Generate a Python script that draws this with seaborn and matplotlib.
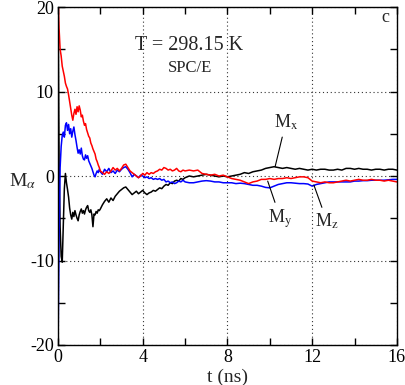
import numpy as np
import pandas as pd
import matplotlib
matplotlib.use("Agg")
import matplotlib.pyplot as plt
import seaborn as sns

# time axis (ns): fine sampling early, coarser later
t = np.round(np.concatenate([np.arange(0, 2.001, 0.05),
                             np.arange(2.1, 6.001, 0.1),
                             np.arange(6.2, 16.001, 0.2)]), 2)

mx = [22, 2, -6, -9.5, -10.2, -6, -1.5, 0.3, -0.8, -1.6,
      -2.5, -3.8, -4.6, -5.1, -4.3, -4.8, -4.1, -4.6, -5.0, -5.3,
      -4.6, -4.2, -3.9, -4.4, -4.1, -4.5, -4.0, -3.7, -3.5, -4.1,
      -4.3, -4.0, -4.6, -6.0, -4.5, -4.6, -4.2, -4.4, -4.0, -4.1, -3.9,
      -3.4, -3.0, -2.7, -3.1, -2.6, -2.9, -2.4, -2.1, -1.8, -1.6,
      -1.4, -1.3, -1.6, -1.9, -2.2, -2.0, -1.8, -2.1, -1.9, -1.7,
      -2.0, -2.2, -2.0, -1.9, -1.7, -1.8, -1.6, -1.4, -1.5, -1.2,
      -1.0, -1.1, -0.8, -0.9, -0.6, -0.5, -0.6, -0.3, -0.4, -0.2,
      0.0, -0.1, 0.0, 0.1, 0.2, 0.1, 0.0, -0.1, 0.0, -0.1,
      0.0, 0.1, 0.2, 0.4, 0.3, 0.5, 0.6, 0.7, 0.9, 1.0,
      1.1, 1.0, 0.9, 1.0, 0.9, 0.8, 0.9, 0.8, 0.7, 0.8,
      0.7, 0.8, 0.8, 0.7, 0.7, 0.8, 0.7, 0.9, 0.9, 0.8,
      0.9, 0.8, 0.8, 0.7, 0.8, 0.8, 0.7, 0.8, 0.8, 0.7]

my = [-21, -8, 1.0, 3.5, 4.8, 5.2, 4.6, 6.0, 6.3, 5.4,
      6.1, 5.0, 5.6, 4.6, 5.3, 5.8, 4.9, 4.2, 3.4, 2.7,
      3.1, 2.6, 3.3, 2.4, 2.0, 1.9, 2.5, 2.1, 2.4, 1.8,
      1.5, 1.2, 0.9, 0.5, 0.1, -0.1, 0.3, 0.6, 0.4, 0.8, 0.5,
      0.2, 0.8, 0.5, 0.9, 0.4, 0.6, 0.3, 0.7, 0.5, 0.8,
      1.0, 1.1, 0.8, 0.4, -0.1, 0.2, 0.0, -0.2, 0.1, 0.0,
      -0.2, -0.1, -0.3, -0.2, -0.4, -0.3, -0.4, -0.3, -0.5, -0.4,
      -0.7, -0.6, -0.8, -0.7, -0.9, -0.8, -0.6, -0.7, -0.5, -0.7,
      -0.8, -0.8, -0.7, -0.6, -0.55, -0.6, -0.7, -0.7, -0.8, -0.8,
      -0.8, -0.9, -0.85, -0.9, -1.0, -1.1, -1.1, -1.2, -1.35, -1.4,
      -1.2, -1.0, -0.9, -0.8, -0.8, -0.85, -0.9, -0.9, -0.95, -1.2,
      -1.0, -0.9, -0.8, -0.7, -0.7, -0.7, -0.7, -0.7, -0.7, -0.6,
      -0.6, -0.55, -0.55, -0.5, -0.5, -0.5, -0.5, -0.45, -0.4, -0.4]

mz = [22, 17.5, 15.0, 14.2, 13.0, 12.4, 11.8, 11.0, 10.6, 10.3,
      9.6, 8.8, 8.0, 7.2, 6.6, 7.4, 7.9, 7.3, 8.2, 7.6,
      8.3, 7.8, 7.0, 7.2, 6.5, 6.0, 6.2, 5.5, 5.1, 4.7,
      4.5, 3.9, 3.6, 3.2, 2.9, 2.6, 2.0, 1.7, 1.3, 1.0, 0.6,
      0.4, 0.2, 0.5, 0.3, 0.6, 1.0, 0.7, 0.9, 0.6, 0.9,
      1.3, 1.4, 1.0, 0.6, 0.4, 0.2, 0.0, -0.2, 0.0, 0.3,
      0.1, 0.4, 0.2, 0.4, 0.3, 0.5, 0.6, 0.8, 0.7, 1.0,
      0.9, 0.7, 0.8, 0.6, 0.7, 0.9, 0.6, 0.5, 0.7, 0.6,
      0.7, 0.6, 0.7, 0.3, 0.2, 0.1, 0.2, 0.0, 0.1, -0.1,
      -0.3, -0.4, -0.5, -0.7, -0.9, -0.7, -0.6, -0.4, -0.4, -0.3,
      -0.4, -0.3, -0.3, -0.2, -0.3, -0.2, -0.1, -0.1, -0.2, -0.6,
      -0.7, -0.8, -0.7, -0.8, -0.8, -0.7, -0.6, -0.5, -0.6, -0.5,
      -0.4, -0.5, -0.5, -0.4, -0.5, -0.5, -0.6, -0.5, -0.6, -0.7]

sns.set_style("ticks")
plt.rcParams['font.family'] = ['Liberation Serif', 'DejaVu Serif']
plt.rcParams['mathtext.fontset'] = 'stix'
plt.rcParams['axes.unicode_minus'] = False

fig = plt.figure(figsize=(4.05, 3.85), dpi=100)
ax = fig.add_axes([0.1432, 0.1039, 0.8368, 0.8779])

df = pd.DataFrame({'t': t, 'Mx': mx, 'My': my, 'Mz': mz})
sns.lineplot(data=df, x='t', y='Mx', color='black', lw=1.1, ax=ax)
sns.lineplot(data=df, x='t', y='My', color='#0000ff', lw=1.1, ax=ax)
sns.lineplot(data=df, x='t', y='Mz', color='#ff0000', lw=1.1, ax=ax)

ax.set_xlim(0, 16)
ax.set_ylim(-20, 20)
ax.set_xticks([0, 4, 8, 12, 16])
ax.set_xticks([2, 6, 10, 14], minor=True)
ax.set_yticks([-20, -10, 0, 10, 20])
ax.set_yticks([-15, -5, 5, 15], minor=True)
ax.tick_params(which='both', direction='in', top=True, right=True,
               length=5, width=1, labelsize=13, colors='black', pad=3)
ax.grid(True, which='major', color='#333333', linestyle=(0, (1, 2.5)), lw=0.8)
for s in ax.spines.values():
    s.set_color('black')
    s.set_linewidth(1)

ax.set_xlabel('t (ns)', fontsize=14, labelpad=2)
ax.set_ylabel(r'M$_\alpha$', fontsize=14, rotation=0, ha='center', va='center')
ax.yaxis.set_label_coords(-0.105, 0.485)

ax.text(6.2, 15.5, 'T = 298.15 K', fontsize=14.5, ha='center', va='center')
ax.text(6.25, 12.8, 'SPC/E', fontsize=12, ha='center', va='center')
ax.text(15.45, 18.7, 'c', fontsize=13, ha='center', va='center')

lp = dict(arrowstyle='-', color='black', lw=0.8, shrinkA=1, shrinkB=0)
ax.annotate(r'M$_\mathrm{x}$', xy=(10.25, 1.1), xytext=(10.75, 6.3),
            fontsize=13, ha='center', va='center', arrowprops=lp)
ax.annotate(r'M$_\mathrm{y}$', xy=(9.9, -0.6), xytext=(10.5, -5.0),
            fontsize=13, ha='center', va='center', arrowprops=lp)
ax.annotate(r'M$_\mathrm{z}$', xy=(12.08, -1.06), xytext=(12.7, -5.4),
            fontsize=13, ha='center', va='center', arrowprops=lp)

fig.savefig('out.png', dpi=100)
